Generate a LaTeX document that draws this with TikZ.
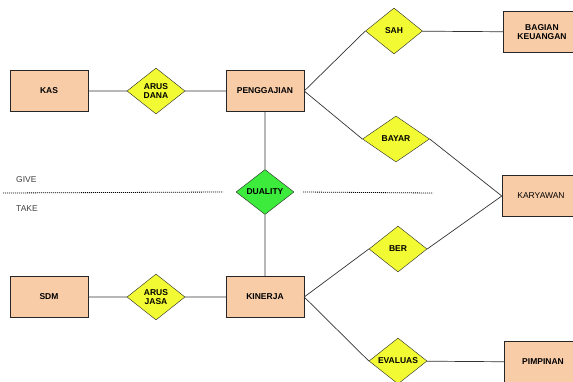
\documentclass[tikz,border=0pt]{standalone}
\usepackage{fontspec}
\setmainfont{Liberation Sans}
\usetikzlibrary{shapes.geometric,positioning}
\definecolor{peach}{RGB}{249,204,168}
\definecolor{lemon}{RGB}{242,250,52}
\definecolor{lime}{RGB}{60,235,60}

\begin{document}
\begin{tikzpicture}[x=1pt,y=-1pt,
    entity/.style={rectangle,draw=black!85,fill=peach,minimum width=78pt,minimum height=41pt,inner sep=0pt,align=center,font=\bfseries\fontsize{8.5}{9.5}\selectfont},
    relation/.style={diamond,aspect=1.3,draw=black!85,fill=lemon,minimum width=58pt,minimum height=46pt,inner sep=0pt,align=center,font=\bfseries\fontsize{8.5}{9.5}\selectfont},
    link/.style={draw=black!80,line width=0.7pt},
    side/.style={font=\fontsize{8.5}{9.5}\selectfont,text=black!75,anchor=west,inner sep=0pt}]
    \useasboundingbox (0,0) rectangle (573,381);
    \clip (0,0) rectangle (573,381);
    % left side
    \node [entity] (kas) at (49,91) {KAS};
    \node [relation] (dana) at (156,91) {ARUS\\DANA};
    \node [entity] (gaji) at (265,91) {PENGGAJIAN};
    \node [entity] (sdm) at (49,297) {SDM};
    \node [relation] (jasa) at (156,297) {ARUS\\JASA};
    \node [entity] (kerja) at (265,297) {KINERJA};
    % middle
    \node [relation,fill=lime,minimum height=45pt] (dual) at (265,192) {DUALITY};
    % right side
    \node [relation,minimum width=57pt] (sah) at (394,31) {SAH};
    \node [relation,minimum width=67pt] (bayar) at (396,139) {BAYAR};
    \node [relation] (beri) at (398,249) {BER};
    \node [relation] (eval) at (398,361) {EVALUAS};
    \node [entity] (keu) at (542,32) {BAGIAN\\KEUANGAN};
    \node [entity,font=\fontsize{8.5}{9.5}\selectfont] (kary) at (541,196) {KARYAWAN};
    \node [entity] (pimp) at (543,362) {PIMPINAN};
    % give / take
    \node [side] (give) at (16,180) {GIVE};
    \node [side] (take) at (16,209) {TAKE};
    \coordinate (dl) at (3,193);
    \coordinate (dr) at (433,193);
    \draw [dash pattern=on 1pt off 1pt,line width=0.8pt] (dl) -- (dual.west -| 223,0);
    \draw [dash pattern=on 1pt off 1pt,line width=0.8pt] (dual.east -| 303,0) -- (dr);
    % connectors
    \path [link] (kas) -- (dana) (dana) -- (gaji)
                 (sdm) -- (jasa) (jasa) -- (kerja)
                 (gaji) -- (dual) (dual) -- (kerja)
                 (gaji.east) -- (sah.west) (sah) -- (keu)
                 (gaji.east) -- (bayar.west) (bayar.east) -- (kary.west)
                 (kerja.east) -- (beri.west) (beri.east) -- (kary.west)
                 (kerja.east) -- (eval.west) (eval) -- (pimp);
\end{tikzpicture}
\end{document}
